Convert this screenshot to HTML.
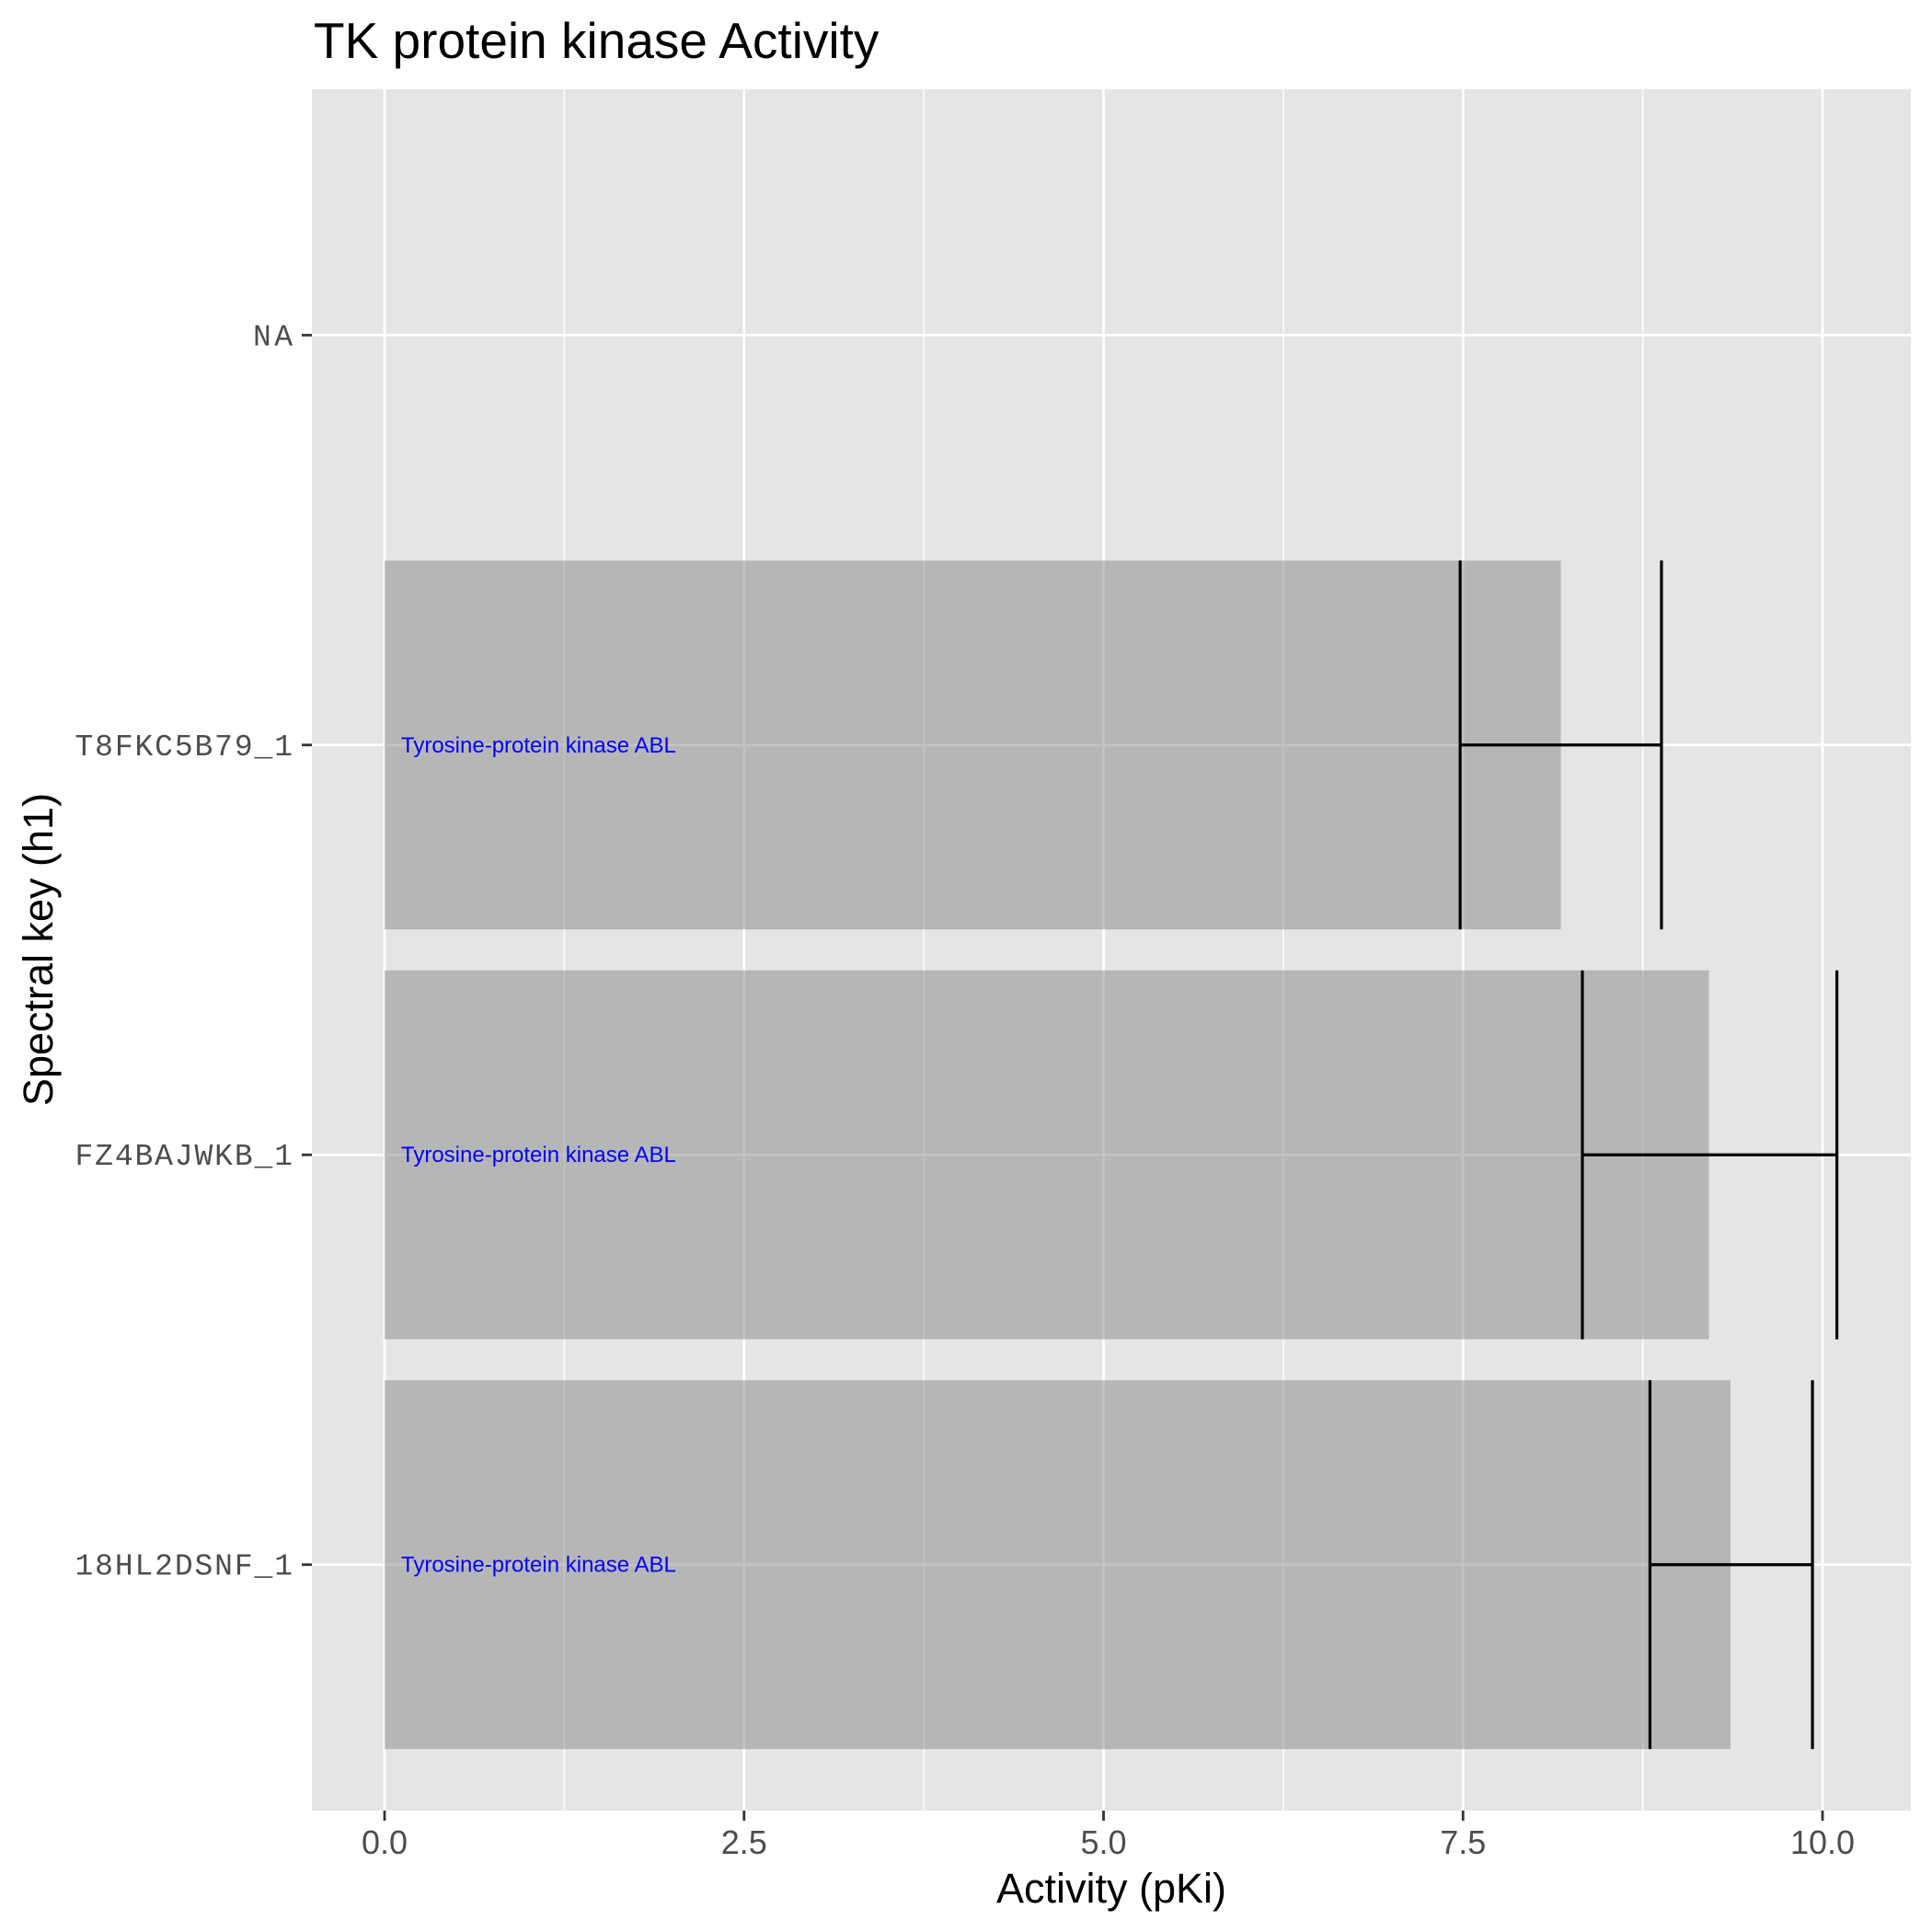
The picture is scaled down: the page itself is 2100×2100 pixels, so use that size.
<!DOCTYPE html>
<html><head><meta charset="utf-8"><style>html,body{margin:0;padding:0;background:#fff}svg{display:block}</style></head>
<body>
<svg id="chart" width="2100" height="2100" xmlns="http://www.w3.org/2000/svg">
<rect x="0" y="0" width="2100" height="2100" fill="#fff"/>
<rect x="339" y="97" width="1738" height="1871" fill="#e5e5e5"/>
<g id="grid"></g><g id="bars"></g><g id="errs"></g><g id="labels"></g><g id="axes"></g>
<text x="341" y="63" font-family="Liberation Sans, sans-serif" font-size="55" fill="#000">TK protein kinase Activity</text>
<text x="1208" y="2068" text-anchor="middle" font-family="Liberation Sans, sans-serif" font-size="45" fill="#000">Activity (pKi)</text>
<text transform="translate(57,1032) rotate(-90)" text-anchor="middle" font-family="Liberation Sans, sans-serif" font-size="45" fill="#000">Spectral key (h1)</text>
</svg>
<script>
const categories = ["18HL2DSNF_1", "FZ4BAJWKB_1", "T8FKC5B79_1", "NA"];
const values = [9.36, 9.21, 8.18, null];
const errLow = [8.80, 8.33, 7.48, null];
const errHigh = [9.93, 10.10, 8.88, null];
const targetLabels = ["Tyrosine-protein kinase ABL", "Tyrosine-protein kinase ABL", "Tyrosine-protein kinase ABL", null];
const xTicks = [0, 2.5, 5, 7.5, 10];
const xTickLabels = ["0.0", "2.5", "5.0", "7.5", "10.0"];
const xMinor = [1.25, 3.75, 6.25, 8.75];

const NS = "http://www.w3.org/2000/svg";
const X0 = 418, XS = 156.3, PT = 97, PB = 1968, PL = 339, PR = 2077;
const n = categories.length;
const step = (PB - PT) / (n - 1 + 1.2);
function xs(v) { return X0 + v * XS; }
function ys(i) { return PT + (0.6 + (n - 1 - i)) * step; }
function mk(tag, attrs, parent) { const e = document.createElementNS(NS, tag); for (const k in attrs) e.setAttribute(k, attrs[k]); parent.appendChild(e); return e; }
const grid = document.getElementById('grid'), bars = document.getElementById('bars'), errs = document.getElementById('errs'), labels = document.getElementById('labels'), axes = document.getElementById('axes');

xMinor.forEach(v => {
  const l = mk('line', {x1: xs(v), x2: xs(v), y1: PT, y2: PB, stroke: '#fff', 'stroke-width': 1.4}, grid);
  
  
});
xTicks.forEach((v, i) => {
  const l = mk('line', {x1: xs(v), x2: xs(v), y1: PT, y2: PB, stroke: '#fff', 'stroke-width': 2.8}, grid);
  
  
  const t = mk('line', {x1: xs(v), x2: xs(v), y1: PB, y2: PB + 11, stroke: '#333', 'stroke-width': 2.8}, axes);
  
  
  const tx = mk('text', {x: xs(v), y: 2015, 'text-anchor': 'middle', 'font-family': 'Liberation Sans, sans-serif', 'font-size': 36, fill: '#4d4d4d'}, axes);
  tx.textContent = xTickLabels[i];
  
  
});
categories.forEach((c, i) => {
  const y = ys(i);
  const g = mk('line', {x1: PL, x2: PR, y1: y, y2: y, stroke: '#fff', 'stroke-width': 2.8}, grid);
  
  
  const t = mk('line', {x1: PL - 11, x2: PL, y1: y, y2: y, stroke: '#333', 'stroke-width': 2.8}, axes);
  
  
  const tx = mk('text', {x: 318, y: y + 11, 'text-anchor': 'end', 'font-family': 'Liberation Mono, monospace', 'font-size': 33, fill: '#4d4d4d'}, axes);
  tx.textContent = c;
  tx.setAttribute('textLength', c.length * 21.5);
  
  
  const h = 0.9 * step;
  if (values[i] != null) {
    const b = mk('rect', {x: xs(0), y: y - h / 2, width: xs(values[i]) - xs(0), height: h, fill: 'rgb(135,135,135)', 'fill-opacity': 0.5}, bars);
    
    
  }
  if (errLow[i] != null) {
    const e = mk('path', {d: `M${xs(errLow[i])},${y - h / 2}V${y + h / 2}M${xs(errHigh[i])},${y - h / 2}V${y + h / 2}M${xs(errLow[i])},${y}H${xs(errHigh[i])}`, stroke: '#000', 'stroke-width': 3.2, fill: 'none'}, errs);
    
    
  }
  if (targetLabels[i]) {
    const lt = mk('text', {x: 436, y: y + 8, 'font-family': 'Liberation Sans, sans-serif', 'font-size': 24, fill: '#0000ff'}, labels);
    lt.textContent = targetLabels[i];
    
    
  }
});
</script>
</body></html>
